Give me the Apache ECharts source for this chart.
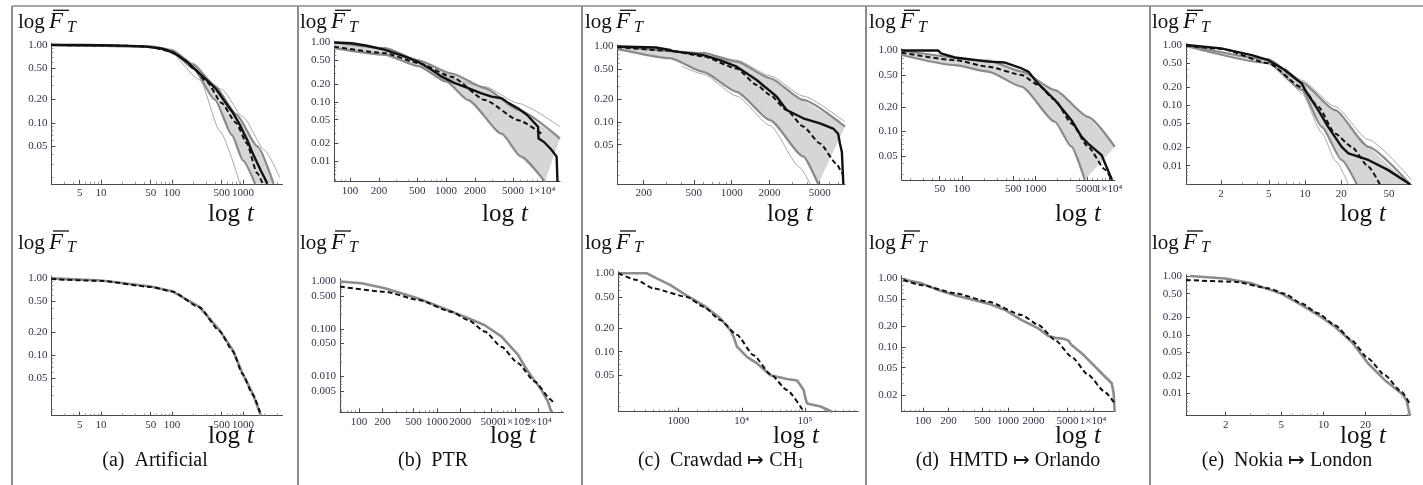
<!DOCTYPE html>
<html><head><meta charset="utf-8">
<script src="https://cdn.jsdelivr.net/npm/echarts@6/dist/echarts.min.js"></script>
<style>html,body{margin:0;padding:0;background:#fff}#c{width:1423px;height:485px}</style>
</head><body><div id="c"></div>
<script>
// ---------------- DATA ----------------
// (a) Artificial
const aXTicks = [5,10,50,100,500,1000];
const aXLabels = ['5','10','50','100','500','1000'];
const aYTicks = [1,0.5,0.2,0.1,0.05];
const aYLabels = ['1.00','0.50','0.20','0.10','0.05'];
const aTopEmp = [[2,1],[5,1],[10,0.99],[20,0.98],[40,0.96],[70,0.9],[85,0.86],[120,0.74],[163,0.605],[210,0.49],[275,0.39],[350,0.32],[427,0.265],[550,0.19],[725,0.134],[900,0.095],[1150,0.06],[1350,0.042],[1580,0.031],[1800,0.024],[2000,0.02],[2200,0.0166]];
const aTopFit = [[2,1],[20,0.98],[50,0.94],[100,0.82],[150,0.65],[200,0.5],[310,0.336],[500,0.18],[800,0.1],[1130,0.055],[1570,0.023],[1900,0.0166]];
const aTopBandHi = [[2,1],[50,0.96],[100,0.86],[200,0.56],[400,0.3],[800,0.13],[1600,0.05],[2700,0.0166]];
const aTopBandLo = [[2,1],[50,0.95],[100,0.83],[200,0.5],[400,0.2],[700,0.07],[1000,0.033],[1480,0.0166]];
const aTopThinLo = [[100,0.85],[248,0.356],[474,0.078],[908,0.0166]];
const aTopThinHi = [[200,0.6],[500,0.27],[1000,0.12],[2000,0.045],[3300,0.02]];
const aBotEmp = [[2,0.98],[10,0.92],[50,0.77],[100,0.67],[243,0.42],[466,0.21],[716,0.116],[983,0.058],[1365,0.032],[1790,0.0164]];
const aBotFit = [[2,0.96],[10,0.91],[50,0.76],[100,0.665],[243,0.415],[466,0.205],[716,0.113],[983,0.057],[1365,0.031],[1800,0.0164]];

// (b) PTR
const bTopXTicks = [100,200,500,1000,2000,5000,10000];
const bTopXLabels = ['100','200','500','1000','2000','5000','1×10⁴'];
const bTopYTicks = [1,0.5,0.2,0.1,0.05,0.02,0.01];
const bTopYLabels = ['1.00','0.50','0.20','0.10','0.05','0.02','0.01'];
const bTopEmp = [[68.5,1.0],[104,0.97],[150,0.88],[232,0.75],[350,0.6],[515,0.47],[700,0.35],[902,0.265],[1200,0.21],[1700,0.17],[2300,0.14],[2990,0.122],[3800,0.115],[4500,0.095],[5660,0.077],[7000,0.06],[9100,0.038],[9200,0.024],[10500,0.021],[12600,0.0154],[14200,0.0119],[14500,0.0045]];
const bTopFit = [[68.5,0.85],[232,0.66],[515,0.45],[1140,0.265],[2550,0.107],[5660,0.049],[10300,0.0276]];
const bTopBandHi = [[68.5,1.0],[232,0.8],[515,0.5],[1140,0.3],[2550,0.17],[5660,0.073],[15400,0.024]];
const bTopBandLo = [[68.5,0.8],[232,0.62],[515,0.4],[1000,0.22],[1700,0.107],[3800,0.029],[6000,0.012],[10700,0.0045]];
const bTopThinHi = [[900,0.27],[2550,0.18],[5660,0.094],[15400,0.038]];
const bBotXTicks = [100,200,500,1000,2000,5000,10000,20000];
const bBotXLabels = ['100','200','500','1000','2000','5000','1×10⁴','2×10⁴'];
const bBotYTicks = [1,0.5,0.1,0.05,0.01,0.005];
const bBotYLabels = ['1.000','0.500','0.100','0.050','0.010','0.005'];
const bBotEmp = [[57,1.0],[108,0.92],[215,0.72],[575,0.44],[943,0.32],[2520,0.168],[4120,0.12],[6760,0.069],[11000,0.0284],[13400,0.0162],[16400,0.01],[22000,0.0052],[26700,0.0029],[29500,0.00176]];
const bBotFit = [[57,0.78],[215,0.61],[575,0.41],[1540,0.23],[2520,0.155],[4120,0.088],[6760,0.042],[11000,0.019],[18000,0.0078],[29500,0.0032],[31000,0.0028]];

// (c) Crawdad -> CH1
const cTopXTicks = [200,500,1000,2000,5000];
const cTopXLabels = ['200','500','1000','2000','5000'];
const cTopEmp = [[124,1.0],[250,0.97],[324,0.9],[340,0.87],[595,0.77],[807,0.66],[1096,0.54],[1580,0.36],[1800,0.3],[2000,0.26],[2280,0.216],[2730,0.144],[3700,0.112],[5020,0.096],[6400,0.082],[7000,0.07],[7240,0.052],[7500,0.04],[7700,0.0151]];
const cTopFit = [[124,0.98],[324,0.88],[595,0.74],[1096,0.51],[1580,0.31],[2015,0.228],[2730,0.144],[3700,0.087],[5020,0.052],[6800,0.028],[7460,0.022],[7700,0.019]];
const cTopBandHi = [[124,1.0],[595,0.82],[1096,0.63],[2015,0.38],[3700,0.196],[7940,0.087]];
const cTopBandLo = [[124,0.93],[324,0.7],[595,0.46],[1096,0.25],[2015,0.106],[3700,0.035],[4860,0.0151]];
const cTopThinLo = [[400,0.55],[595,0.43],[1096,0.22],[2015,0.09],[3480,0.025],[4190,0.0151]];
const cTopThinHi = [[595,0.85],[1096,0.66],[2015,0.41],[3700,0.22],[7940,0.1]];
const cBotXTicks = [1000,10000,100000];
const cBotXLabels = ['1000','10⁴','10⁵'];
const cBotEmp = [[111,1.0],[312,1.0],[451,0.86],[733,0.71],[1350,0.52],[2480,0.39],[4560,0.267],[6560,0.19],[7420,0.155],[8390,0.116],[12100,0.086],[17400,0.071],[28300,0.05],[52100,0.045],[75200,0.043],[95600,0.0325],[102000,0.0254],[108000,0.0219],[176000,0.02],[270000,0.0172]];
const cBotFit = [[111,1.0],[217,0.82],[398,0.64],[1350,0.5],[2480,0.375],[4560,0.254],[8390,0.164],[15400,0.09],[28300,0.052],[52100,0.0325],[95600,0.0172]];

// (d) HMTD -> Orlando
const dTopXTicks = [50,100,500,1000,5000,10000];
const dTopXLabels = ['50','100','500','1000','5000','1×10⁴'];
const dTopEmp = [[15.2,1.0],[47.6,1.0],[52,0.92],[80.3,0.82],[228,0.73],[385,0.71],[650,0.6],[800,0.55],[1090,0.39],[1840,0.245],[3090,0.138],[4250,0.086],[5200,0.071],[7950,0.051],[11000,0.0252]];
const dTopFit = [[15.2,0.94],[80.3,0.76],[228,0.63],[650,0.5],[1090,0.375],[1840,0.245],[3090,0.126],[5200,0.065],[8800,0.034],[11000,0.0252]];
const dTopBandHi = [[15.2,1.0],[228,0.75],[650,0.55],[1840,0.325],[5200,0.152],[12000,0.065]];
const dTopBandLo = [[15.2,0.88],[80.3,0.66],[228,0.55],[650,0.357],[1840,0.132],[3090,0.065],[4700,0.0252]];
const dBotXTicks = [100,200,500,1000,2000,5000,10000];
const dBotXLabels = ['100','200','500','1000','2000','5000','1×10⁴'];
const dBotYTicks = [1,0.5,0.2,0.1,0.05,0.02];
const dBotYLabels = ['1.00','0.50','0.20','0.10','0.05','0.02'];
const dBotEmp = [[58.7,0.97],[96.6,0.85],[151,0.68],[238,0.57],[586,0.43],[922,0.347],[1450,0.247],[2275,0.187],[2980,0.145],[3600,0.136],[4500,0.132],[5100,0.125],[5600,0.107],[7360,0.081],[9650,0.058],[12700,0.041],[16600,0.0296],[17500,0.021],[18000,0.01135]];
const dBotFit = [[58.7,0.95],[96.6,0.8],[238,0.61],[586,0.46],[1450,0.293],[2275,0.21],[3575,0.127],[5600,0.072],[8800,0.039],[13800,0.022],[18500,0.0143]];

// (e) Nokia -> London
const eTopXTicks = [2,5,10,20,50];
const eTopXLabels = ['2','5','10','20','50'];
const eYTicks = [1,0.5,0.2,0.1,0.05,0.02,0.01];
const eYLabels = ['1.00','0.50','0.20','0.10','0.05','0.02','0.01'];
const eTopEmp = [[1.02,1.0],[2,0.88],[3.6,0.68],[4.95,0.56],[6.8,0.385],[9.4,0.23],[10,0.18],[12.9,0.083],[15.6,0.044],[20.2,0.0205],[23,0.016],[33.7,0.0124],[49,0.0085],[75,0.0049]];
const eTopFit = [[1.02,0.98],[2,0.86],[4.95,0.5],[9.4,0.2],[12.9,0.095],[17.8,0.034],[24.5,0.0205],[33.7,0.0096],[42,0.0049]];
const eTopBandHi = [[1.02,1.0],[4.95,0.58],[9.4,0.24],[17.8,0.083],[33.7,0.0205],[75,0.0049]];
const eTopBandLo = [[1.02,0.96],[4.95,0.5],[9.4,0.18],[13.8,0.044],[20.2,0.0124],[27,0.0049]];
const eTopThinLo = [[6.8,0.36],[9.4,0.16],[13.8,0.035],[18,0.012],[23,0.0049]];
const eTopThinHi = [[6.8,0.42],[9.4,0.26],[17.8,0.095],[33.7,0.027],[77,0.0058]];
const eBotXTicks = [2,5,10,20];
const eBotXLabels = ['2','5','10','20'];
const eBotEmp = [[1.11,1.0],[1.98,0.91],[3.07,0.75],[5.02,0.5],[6.98,0.32],[9.18,0.217],[12.1,0.137],[15.9,0.076],[20.9,0.0325],[27.5,0.0169],[36.2,0.01],[39.3,0.0077],[41.6,0.0042]];
const eBotFit = [[1.04,0.855],[2.33,0.8],[4.04,0.617],[5.3,0.5],[6.98,0.34],[9.18,0.232],[12.1,0.146],[15.9,0.081],[20.9,0.0395],[27.5,0.0205],[36.2,0.0107],[42,0.0063]];

const captions = ['(a)  Artificial','(b)  PTR','(c)  Crawdad ↦ CH','(d)  HMTD ↦ Orlando','(e)  Nokia ↦ London'];

// ---------------- LAYOUT ----------------
const FONT = "'Liberation Serif', 'Times New Roman', serif";
const panels = [
 {box:[51.4,43.3,282.5,183.8], xr:[2,3600], yr:[0.0166,1.05], xt:aXTicks, xl:aXLabels, yt:aYTicks, yl:aYLabels, band:[aTopBandHi,aTopBandLo], thin:[aTopThinLo,aTopThinHi], emp:aTopEmp, fit:aTopFit},
 {box:[51.4,276.1,282.5,415.7], xr:[2,3600], yr:[0.0164,1.05], xt:aXTicks, xl:aXLabels, yt:aYTicks, yl:aYLabels, emp:aBotEmp, fit:aBotFit},
 {box:[334.3,41.2,560,181.7], xr:[68.5,15400], yr:[0.0045,1.05], xt:bTopXTicks, xl:bTopXLabels, yt:bTopYTicks, yl:bTopYLabels, band:[bTopBandHi,bTopBandLo], thin:[bTopThinHi], emp:bTopEmp, fit:bTopFit},
 {box:[340,278.6,563.3,412.3], xr:[57,41900], yr:[0.00176,1.15], xt:bBotXTicks, xl:bBotXLabels, yt:bBotYTicks, yl:bBotYLabels, emp:bBotEmp, fit:bBotFit},
 {box:[617.5,44.9,845,184], xr:[124,7940], yr:[0.0151,1.05], xt:cTopXTicks, xl:cTopXLabels, yt:aYTicks, yl:aYLabels, band:[cTopBandHi,cTopBandLo], thin:[cTopThinLo,cTopThinHi], emp:cTopEmp, fit:cTopFit},
 {box:[618.3,271.6,858.3,411.7], xr:[111,700000], yr:[0.0172,1.05], xt:cBotXTicks, xl:cBotXLabels, yt:aYTicks, yl:aYLabels, emp:cBotEmp, fit:cBotFit},
 {box:[901.7,48.8,1114.8,180], xr:[15.2,12000], yr:[0.0252,1.05], xt:dTopXTicks, xl:dTopXLabels, yt:aYTicks, yl:aYLabels, band:[dTopBandHi,dTopBandLo], thin:[], emp:dTopEmp, fit:dTopFit},
 {box:[901.6,275.7,1115.7,411.7], xr:[56,18500], yr:[0.01135,1.1], xt:dBotXTicks, xl:dBotXLabels, yt:dBotYTicks, yl:dBotYLabels, emp:dBotEmp, fit:dBotFit},
 {box:[1186,43.7,1411.4,184.3], xr:[1.02,77], yr:[0.0049,1.05], xt:eTopXTicks, xl:eTopXLabels, yt:eYTicks, yl:eYLabels, band:[eTopBandHi,eTopBandLo], thin:[eTopThinLo,eTopThinHi], emp:eTopEmp, fit:eTopFit},
 {box:[1186,274.8,1410,415.7], xr:[1.04,41.6], yr:[0.0042,1.05], xt:eBotXTicks, xl:eBotXLabels, yt:eYTicks, yl:eYLabels, emp:eBotEmp, fit:eBotFit}
];
const titleX = [18,300,585,869,1152];
const logtX = [[208,208],[482,490],[767,773],[1055,1055],[1340,1340]];
const capX = [155,433,721,1008,1287];
const dividers = [12,298,582,866,1150];

// ---------------- BUILD ----------------
function lab(v, ticks, labels){
  let best=0, bd=1e9;
  ticks.forEach((t,i)=>{const d=Math.abs(Math.log10(v)-Math.log10(t)); if(d<bd){bd=d;best=i;}});
  return labels[best];
}
function minorTicks(range, majors){
  const out=[];
  for(let k=Math.floor(Math.log10(range[0]))-1;k<=Math.ceil(Math.log10(range[1]));k++){
    for(let m=1;m<=9;m++){
      const v=m*Math.pow(10,k);
      if(v>range[0]*1.001 && v<range[1]*0.999 && !majors.some(t=>Math.abs(t-v)/t<1e-6)) out.push(v);
    }
  }
  return out;
}
const grids=[], xAxes=[], yAxes=[], series=[], graphics=[];
const AX = '#4a4a4a', LBL='#34304a';
const labelStyle = {fontFamily:FONT, fontSize:11, color:LBL, margin:4, showMinLabel:true, showMaxLabel:true, hideOverlap:false};
panels.forEach((p,i)=>{
  grids.push({left:p.box[0], top:p.box[1], width:p.box[2]-p.box[0], height:p.box[3]-p.box[1], containLabel:false, outerBoundsMode:'none'});
  xAxes.push({type:'log', logBase:10, gridIndex:i, min:p.xr[0], max:p.xr[1], position:'bottom',
    axisLine:{show:true, onZero:false, lineStyle:{color:AX, width:1}},
    axisTick:{show:true, inside:true, length:4, customValues:p.xt, lineStyle:{color:AX}},
    axisLabel:Object.assign({show:true, customValues:p.xt.filter((v,k)=>k%2===0), formatter:(v)=>lab(v,p.xt,p.xl)}, labelStyle),
    splitLine:{show:false}});
  yAxes.push({type:'log', logBase:10, gridIndex:i, min:p.yr[0], max:p.yr[1], position:'left',
    axisLine:{show:true, onZero:false, lineStyle:{color:AX, width:1}},
    axisTick:{show:true, inside:true, length:4, customValues:p.yt, lineStyle:{color:AX}},
    axisLabel:Object.assign({show:true, customValues:p.yt, formatter:(v)=>lab(v,p.yt,p.yl)}, labelStyle),
    splitLine:{show:false}});
});
// overlay axes: minor ticks, plus every other x label (so crowded neighbours both stay visible)
panels.forEach((p,i)=>{
  xAxes.push({type:'log', logBase:10, gridIndex:i, min:p.xr[0], max:p.xr[1], position:'bottom', offset:0,
    axisLine:{show:false}, splitLine:{show:false},
    axisLabel:Object.assign({show:true, customValues:p.xt.filter((v,k)=>k%2===1), formatter:(v)=>lab(v,p.xt,p.xl)}, labelStyle),
    axisTick:{show:true, inside:true, length:2, customValues:minorTicks(p.xr,p.xt), lineStyle:{color:'#777', width:0.8}}});
  yAxes.push({type:'log', logBase:10, gridIndex:i, min:p.yr[0], max:p.yr[1], position:'left', offset:0,
    axisLine:{show:false}, axisLabel:{show:false}, splitLine:{show:false},
    axisTick:{show:true, inside:true, length:2, customValues:minorTicks(p.yr,p.yt), lineStyle:{color:'#777', width:0.8}}});
});
panels.forEach((p,i)=>{
  const line=(data,color,width,type,smooth)=>({type:'line', xAxisIndex:i, yAxisIndex:i, data:data, symbol:'none', showSymbol:false, silent:true, animation:false,
    smooth:smooth||false, smoothMonotone:'x', lineStyle:{color:color, width:width, type:type||'solid'}, clip:true});
  if(p.band){
    const hi=p.band[0], lo=p.band[1];
    series.push({type:'custom', xAxisIndex:i, yAxisIndex:i, silent:true, clip:true, data:[hi[0]],
      renderItem:(params, api)=>{
        if(params.dataIndex!==0) return null;
        const pts = hi.map(d=>api.coord(d)).concat(lo.slice().reverse().map(d=>api.coord(d)));
        return {type:'polygon', shape:{points:pts}, style:{fill:'#d6d6d6', stroke:null}};
      }});
    (p.thin||[]).forEach(t=>series.push(line(t,'#a8a8a8',1,'solid',0.2)));
    series.push(line(hi,'#8a8a8a',2.2,'solid',0.2));
    series.push(line(lo,'#8a8a8a',2.2,'solid',0.2));
    series.push(line(p.emp,'#111',2.4,'solid',false));
    series.push(line(p.fit,'#111',2,[5,3],0.2));
  } else {
    series.push(line(p.emp,'#8c8c8c',2.6,'solid',false));
    series.push(line(p.fit,'#111',2,[5,3],0.2));
  }
});

function title(x, base){
  return [
    {type:'text', x:x, y:base-6.4, silent:true, style:{text:'log', font:'21px '+FONT, fill:'#111', align:'left', verticalAlign:'middle'}},
    {type:'text', x:x+31, y:base-7.0, silent:true, style:{text:'F', font:'italic 23px '+FONT, fill:'#111', align:'left', verticalAlign:'middle'}},
    {type:'line', silent:true, shape:{x1:x+35, y1:base-19, x2:x+51, y2:base-19}, style:{stroke:'#111', lineWidth:1.3}},
    {type:'text', x:x+49, y:base+3-4.9, silent:true, style:{text:'T', font:'italic 16px '+FONT, fill:'#111', align:'left', verticalAlign:'middle'}}
  ];
}
function logt(x, base){
  return [
    {type:'text', x:x, y:base-7.6, silent:true, style:{text:'log', font:'25px '+FONT, fill:'#111', align:'left', verticalAlign:'middle'}},
    {type:'text', x:x+39, y:base-7.6, silent:true, style:{text:'t', font:'italic 25px '+FONT, fill:'#111', align:'left', verticalAlign:'middle'}}
  ];
}
for(let k=0;k<5;k++){
  graphics.push(...title(titleX[k], 29.3));
  graphics.push(...title(titleX[k], 250));
  graphics.push(...logt(logtX[k][0], 221.7));
  graphics.push(...logt(logtX[k][1], 444.5));
  if(k===2){
    graphics.push({type:'text', x:capX[k], y:461, silent:true, style:{text:'{n|'+captions[k]+'}{s|1}', align:'center', verticalAlign:'middle', fill:'#111',
      rich:{n:{font:'20px '+FONT, fill:'#111'}, s:{font:'14px '+FONT, fill:'#111', padding:[6,0,0,0]}}}});
  } else {
    graphics.push({type:'text', x:capX[k], y:461, silent:true, style:{text:captions[k], font:'20px '+FONT, fill:'#111', align:'center', verticalAlign:'middle'}});
  }
  graphics.push({type:'line', silent:true, shape:{x1:dividers[k], y1:6, x2:dividers[k], y2:485}, style:{stroke:'#666', lineWidth:1.5}});
}
graphics.push({type:'line', silent:true, shape:{x1:dividers[0], y1:6, x2:1423, y2:6}, style:{stroke:'#888', lineWidth:1.5}});

const chart = echarts.init(document.getElementById('c'), null, {renderer:'canvas', width:1423, height:485});
chart.setOption({animation:false, backgroundColor:'#fff', grid:grids, xAxis:xAxes, yAxis:yAxes, series:series, graphic:{elements:graphics}});
</script></body></html>
